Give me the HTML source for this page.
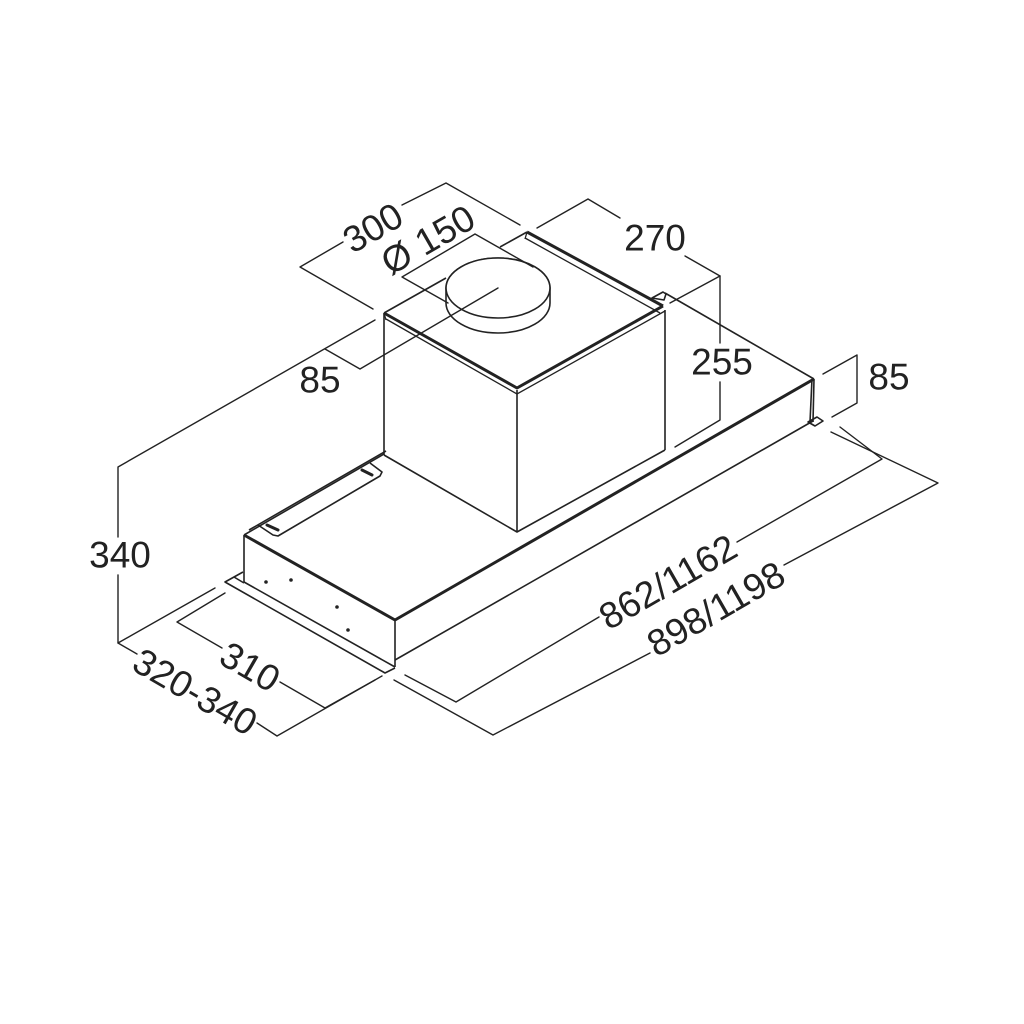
<!DOCTYPE html>
<html><head><meta charset="utf-8"><style>
html,body{margin:0;padding:0;background:#fff;}
svg{display:block;}
text{font-family:"Liberation Sans",Arial,sans-serif;font-size:37px;fill:#222;}
</style></head><body>
<svg width="1024" height="1024" viewBox="0 0 1024 1024" xmlns="http://www.w3.org/2000/svg">
<rect width="1024" height="1024" fill="#fff"/>
<!-- cylinder first, white filled -->
<path d="M446,288 L446,303 A52,30 0 0 0 550,303 L550,288 A52,30 0 0 0 446,288 Z" fill="#ffffff" stroke="#222" stroke-width="1.6"/>
<ellipse cx="498" cy="288" rx="52" ry="30" fill="#ffffff" stroke="#222" stroke-width="1.6"/>

<g fill="none" stroke="#222" stroke-width="1.4" stroke-linejoin="round" stroke-linecap="round">
<polyline fill="none" points="373,309 300,267 343,242"/>
<polyline fill="none" points="402,205 446,183 520,225"/>
<polyline fill="none" points="448,303 402,277 475,234 533,267"/>
<polyline fill="none" points="498,288 360,369 325,349"/>
<polyline fill="none" points="375,320 118,467 118,537"/>
<polyline fill="none" points="118,575 118,643 215,588"/>
<polyline fill="none" points="118,643 137,654"/>
<polyline fill="none" points="225,593 177,622 222,648"/>
<polyline fill="none" points="280,682 325,708 375,680"/>
<polyline fill="none" points="257,723 277,736 382,676"/>
<polyline fill="none" points="537,228 588,199 620,218"/>
<polyline fill="none" points="685,256 720,276 670,303"/>
<polyline fill="none" points="720,276 720,343"/>
<polyline fill="none" points="720,382 720,420 675,447"/>
<polyline fill="none" points="823,374 857,355 857,403 832,417"/>
<polyline fill="none" points="840,427 882,459 737,542"/>
<polyline fill="none" points="599,617 456,702 405,675"/>
<polyline fill="none" points="831,432 938,483 784,565"/>
<polyline fill="none" points="650,653 493,735 394,680"/>
</g>

<g fill="none" stroke="#222" stroke-width="1.6" stroke-linejoin="round">
<line x1="244" y1="535" x2="384" y2="454"/>
<line x1="665" y1="293" x2="814" y2="379"/>
<line x1="244" y1="535" x2="244" y2="582"/>
<line x1="244" y1="582" x2="395" y2="667"/>
<line x1="395" y1="620" x2="395" y2="667"/>
<line x1="395" y1="660" x2="813" y2="421"/>
<line x1="814" y1="379" x2="813" y2="422"/>
<line x1="812" y1="379" x2="810" y2="422"/>
<polygon fill="none" points="808,422 815,426 823,421 817,417"/>
<polyline fill="none" points="243,572 225,582 385,673 395,668"/>
<line x1="234" y1="577" x2="244" y2="583"/>
<polyline fill="none" points="258,525 273,535 278,536 380,476 382,472 370,463"/>
<line x1="249" y1="530" x2="386" y2="451"/>
<polygon fill="none" points="652,298 663,292 666,294 664,300"/>
<line x1="384" y1="313" x2="384" y2="455"/>
<line x1="517" y1="390" x2="517" y2="532"/>
<line x1="665" y1="310" x2="665" y2="450"/>
<polyline fill="none" points="384,455 517,532 665,450"/>
<line x1="384" y1="313" x2="446" y2="278"/>
<line x1="500" y1="247" x2="527" y2="232"/>
</g>
<g fill="none" stroke="#222" stroke-width="3" stroke-linejoin="round">
<line x1="395" y1="620" x2="814" y2="379"/>
<line x1="244" y1="535" x2="395" y2="620"/>
<polyline fill="none" points="384,313 517,388 663,306"/>
<polyline fill="none" points="527,232 663,306"/>
</g>
<g fill="none" stroke="#222" stroke-width="1.3">
<polyline fill="none" points="386,319 517,394 665,311"/>
<polyline fill="none" points="525,238 660,313"/>
<line x1="384" y1="313" x2="386" y2="320"/>
<line x1="527" y1="232" x2="525" y2="239"/>
</g>
<g stroke="#222" stroke-width="3" stroke-linecap="round">
<line x1="267" y1="525" x2="278" y2="530"/>
<line x1="362" y1="470" x2="372" y2="475"/>
</g>
<g fill="#222">
<circle cx="266" cy="582" r="1.8"/><circle cx="291" cy="580" r="1.8"/>
<circle cx="337" cy="607" r="1.8"/><circle cx="348" cy="630" r="1.8"/>
</g>

<g text-anchor="middle" dominant-baseline="central">
<text transform="translate(373,228) rotate(-30)">300</text>
<text transform="translate(428,240) rotate(-30)">Ø 150</text>
<text x="655" y="238">270</text>
<text x="320" y="380">85</text>
<text x="722" y="362">255</text>
<text x="889" y="377">85</text>
<text x="120" y="555">340</text>
<text transform="translate(250,667) rotate(30)">310</text>
<text transform="translate(195,692) rotate(30)">320-340</text>
<text transform="translate(668,582) rotate(-30)">862/1162</text>
<text transform="translate(716,609) rotate(-30)">898/1198</text>
</g>
</svg>
</body></html>
